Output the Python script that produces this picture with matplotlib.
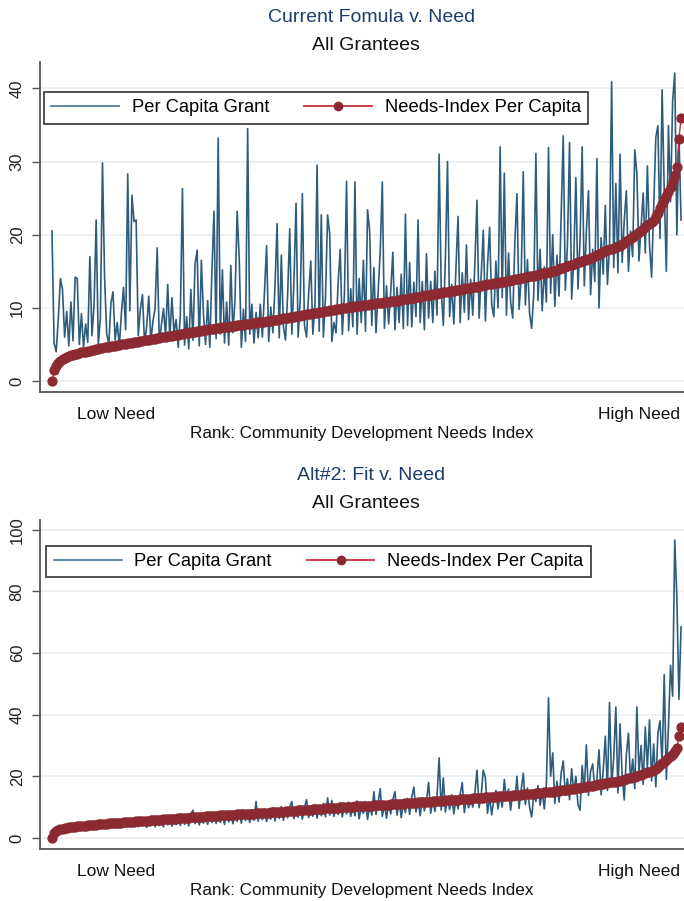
import numpy as np
import matplotlib
matplotlib.use("Agg")
import matplotlib.pyplot as plt
from matplotlib.lines import Line2D

# Needs-index per capita, grantees sorted by need (shared by both panels)
needs_pc = [
    0.0, 1.5, 2.1, 2.5, 2.8, 3.0, 3.15, 3.3, 3.4, 3.5,
    3.6, 3.7, 3.75, 3.8, 3.9, 3.95, 4.0, 4.1, 4.15, 4.2,
    4.3, 4.35, 4.4, 4.5, 4.55, 4.6, 4.65, 4.7, 4.75, 4.8,
    4.85, 4.9, 4.95, 5.0, 5.05, 5.1, 5.15, 5.2, 5.25, 5.3,
    5.35, 5.4, 5.45, 5.5, 5.55, 5.6, 5.65, 5.7, 5.75, 5.8,
    5.85, 5.9, 5.95, 6.0, 6.05, 6.1, 6.15, 6.2, 6.25, 6.3,
    6.35, 6.4, 6.45, 6.5, 6.55, 6.6, 6.65, 6.7, 6.75, 6.8,
    6.85, 6.9, 6.95, 7.0, 7.05, 7.08, 7.12, 7.16, 7.2, 7.24,
    7.28, 7.32, 7.36, 7.4, 7.44, 7.48, 7.52, 7.56, 7.6, 7.64,
    7.68, 7.72, 7.76, 7.8, 7.84, 7.88, 7.92, 7.96, 8.0, 8.04,
    8.08, 8.12, 8.16, 8.2, 8.25, 8.3, 8.35, 8.4, 8.45, 8.5,
    8.55, 8.6, 8.65, 8.7, 8.75, 8.8, 8.85, 8.9, 8.95, 9.0,
    9.05, 9.1, 9.15, 9.2, 9.25, 9.3, 9.35, 9.4, 9.45, 9.5,
    9.55, 9.6, 9.65, 9.7, 9.75, 9.8, 9.85, 9.9, 9.95, 10.0,
    10.04, 10.08, 10.12, 10.16, 10.2, 10.24, 10.28, 10.32, 10.36, 10.4,
    10.44, 10.48, 10.52, 10.56, 10.6, 10.64, 10.68, 10.72, 10.76, 10.8,
    10.84, 10.88, 10.92, 10.96, 11.0, 11.05, 11.1, 11.15, 11.2, 11.25,
    11.3, 11.35, 11.4, 11.45, 11.5, 11.55, 11.6, 11.65, 11.7, 11.75,
    11.8, 11.85, 11.9, 11.95, 12.0, 12.05, 12.1, 12.15, 12.2, 12.25,
    12.3, 12.35, 12.4, 12.45, 12.5, 12.55, 12.6, 12.65, 12.7, 12.75,
    12.8, 12.85, 12.9, 13.0, 13.05, 13.1, 13.15, 13.2, 13.25, 13.3,
    13.35, 13.4, 13.45, 13.5, 13.55, 13.6, 13.65, 13.7, 13.75, 13.8,
    13.9, 13.95, 14.0, 14.05, 14.1, 14.15, 14.2, 14.3, 14.35, 14.4,
    14.5, 14.55, 14.6, 14.7, 14.75, 14.8, 14.9, 14.95, 15.0, 15.1,
    15.2, 15.3, 15.4, 15.5, 15.6, 15.7, 15.8, 15.9, 16.0, 16.1,
    16.2, 16.3, 16.4, 16.5, 16.6, 16.7, 16.85, 17.0, 17.1, 17.25,
    17.4, 17.5, 17.65, 17.8, 17.9, 18.0, 18.1, 18.2, 18.3, 18.4,
    18.5, 18.7, 18.9, 19.1, 19.3, 19.5, 19.7, 19.9, 20.1, 20.3,
    20.5, 20.8, 21.0, 21.3, 21.5, 21.8, 22.0, 22.5, 23.0, 23.6,
    24.2, 24.7, 25.3, 25.9, 26.5, 27.3, 28.2, 29.3, 33.1, 35.9,
]

# Per capita grant under the current formula
grant_current = [
    20.5, 5.2, 4.0, 8.5, 14.0, 12.5, 6.0, 9.5, 4.8, 10.8,
    5.5, 14.2, 14.0, 5.0, 9.2, 4.6, 7.8, 5.3, 17.0, 6.2,
    10.4, 22.0, 5.0, 8.6, 29.8, 14.1, 6.5, 5.0, 10.6, 12.2,
    5.6, 8.0, 4.8, 9.3, 12.8, 7.0, 28.3, 9.6, 25.4, 21.8,
    22.0, 6.2, 9.8, 11.8, 5.2, 7.4, 11.6, 5.5, 8.2, 10.0,
    18.2, 5.4, 7.6, 9.9, 6.1, 13.2, 5.8, 11.4, 6.6, 8.4,
    4.6, 9.0, 26.3, 4.9, 8.8, 4.4, 12.5, 5.6, 16.0, 17.9,
    4.8, 16.5, 9.1, 5.0, 11.0, 4.6, 14.9, 23.2, 5.8, 33.2,
    6.4, 15.2, 5.2, 10.8, 4.9, 15.8, 6.6, 11.2, 23.2, 16.7,
    4.6, 9.8, 5.4, 34.5, 6.4, 10.5, 5.2, 9.4, 5.9, 10.5,
    6.0, 12.4, 18.5, 5.4, 10.1, 6.6, 13.0, 21.5, 5.9, 17.2,
    7.4, 5.6, 11.8, 20.8, 6.4, 13.6, 24.3, 6.0, 11.2, 25.6,
    7.6, 6.0, 12.0, 16.4, 6.4, 10.6, 29.5, 6.8, 22.7, 6.0,
    11.5, 22.7, 20.1, 5.4, 8.0, 6.6, 13.4, 18.0, 6.4, 11.9,
    27.3, 6.9, 12.6, 7.4, 27.2, 6.4, 14.0, 8.0, 16.5, 6.8,
    23.4, 20.5, 7.6, 15.5, 6.6, 12.2, 17.6, 27.2, 7.2, 13.0,
    7.8, 12.2, 17.6, 7.0, 12.8, 8.0, 14.6, 7.2, 22.8, 7.6,
    16.2, 7.4, 13.5, 8.8, 22.0, 8.0, 13.6, 7.0, 17.4, 8.6,
    13.6, 8.0, 15.0, 9.0, 31.0, 12.6, 7.6, 16.8, 30.0, 8.8,
    13.2, 7.8, 15.4, 22.5, 8.0, 14.8, 9.4, 18.6, 8.4, 13.9,
    9.0, 16.0, 24.7, 8.6, 14.4, 20.6, 8.2, 15.8, 21.0, 10.4,
    8.8, 16.4, 10.0, 32.0, 11.4, 28.4, 9.0, 17.5, 10.8, 8.6,
    19.0, 25.6, 9.8, 14.0, 28.6, 10.4, 16.6, 9.2, 7.2, 12.0,
    31.1, 11.0, 18.0, 9.6, 15.6, 10.8, 31.9, 12.0, 20.0, 10.2,
    17.2, 11.6, 22.4, 33.5, 12.4, 18.6, 32.6, 11.2, 16.5, 27.8,
    12.6, 19.4, 32.0, 13.0, 20.5, 26.0, 11.8, 18.0, 13.6, 30.4,
    10.0, 19.6, 14.6, 24.0, 13.2, 18.4, 40.9, 15.5, 27.0, 14.8,
    31.0, 16.2, 22.0, 26.0, 15.0, 20.5, 17.0, 31.6, 28.4, 16.4,
    21.0, 25.7, 17.5, 29.4, 18.6, 14.2, 24.0, 33.3, 34.9, 19.5,
    39.8, 26.0, 15.0, 34.9, 24.5, 38.3, 42.1, 20.0, 33.5, 22.0,
]

# Per capita grant under alternative #2 (fit)
grant_alt2 = [
    0.5, 2.0, 2.6, 3.4, 2.5, 3.6, 4.2, 2.9, 3.8, 3.2,
    4.5, 3.3, 3.9, 3.1, 4.6, 3.5, 4.2, 3.6, 5.0, 3.7,
    4.4, 3.8, 5.1, 3.9, 4.8, 4.0, 5.6, 4.2, 5.0, 4.1,
    5.5, 4.3, 5.2, 4.4, 6.0, 4.5, 5.6, 4.6, 6.2, 4.7,
    5.8, 3.6, 6.4, 3.9, 5.9, 3.4, 6.6, 4.0, 6.2, 3.6,
    6.9, 4.0, 6.0, 3.6, 7.1, 4.2, 6.4, 3.8, 7.0, 4.3,
    6.6, 4.0, 7.4, 4.4, 6.8, 3.9, 7.6, 9.0, 4.6, 7.2,
    4.2, 7.8, 4.8, 7.1, 4.4, 8.0, 5.0, 7.3, 4.7, 8.2,
    5.0, 7.6, 4.4, 8.4, 5.2, 7.9, 4.6, 8.7, 5.4, 7.8,
    4.8, 9.0, 5.6, 8.2, 5.0, 9.2, 5.7, 11.8, 5.4, 8.6,
    5.9, 9.5, 5.3, 8.8, 6.1, 9.8, 5.5, 9.0, 6.3, 10.2,
    5.7, 9.3, 6.5, 10.0, 11.8, 6.2, 9.6, 6.7, 10.4, 6.1,
    9.8, 12.4, 6.6, 10.2, 7.0, 10.8, 6.4, 10.0, 7.2, 11.2,
    6.8, 13.0, 7.4, 12.2, 7.0, 10.6, 7.6, 11.4, 6.8, 10.8,
    7.8, 11.6, 7.0, 10.4, 7.2, 12.0, 6.2, 10.2, 8.0, 11.8,
    6.0, 10.8, 7.4, 15.0, 7.6, 11.4, 16.0, 7.0, 11.0, 6.4,
    11.6, 7.8, 12.4, 15.0, 7.4, 12.0, 6.6, 11.4, 8.2, 12.8,
    7.6, 13.2, 16.5, 8.4, 12.2, 7.2, 13.0, 8.8, 12.0, 18.0,
    8.0, 12.6, 8.6, 13.4, 26.0, 9.0, 19.5, 8.4, 13.0, 9.2,
    14.0, 7.8, 12.8, 9.4, 14.2, 18.0, 8.2, 13.6, 9.8, 12.4,
    10.0, 14.6, 22.0, 9.8, 13.8, 22.0, 19.5, 8.0, 13.2, 7.5,
    12.6, 15.4, 9.4, 14.0, 10.0, 19.0, 12.4, 15.8, 9.0, 14.8,
    12.0, 20.0, 9.6, 15.6, 21.0, 10.8, 16.2, 10.0, 6.8, 14.2,
    11.8, 17.0, 10.6, 15.0, 9.4, 17.6, 45.5, 20.0, 27.6, 11.2,
    18.4, 11.6, 21.0, 25.0, 13.8, 19.2, 12.4, 22.5, 14.6, 20.0,
    10.8, 9.0, 23.5, 15.2, 30.2, 13.8, 21.6, 24.0, 16.0, 19.0,
    28.6, 14.0, 22.0, 33.0, 15.4, 44.0, 17.2, 26.0, 42.5, 14.6,
    37.0, 20.4, 12.3, 27.0, 34.0, 18.2, 25.6, 16.0, 42.5, 21.0,
    30.0, 17.4, 36.0, 22.6, 38.3, 18.5, 30.5, 16.6, 34.0, 38.0,
    24.0, 53.0, 19.0, 36.0, 56.0, 46.0, 96.7, 78.0, 45.0, 68.5,
]

rank_labels = ["Low Need", "High Need"]
rank_label_pos = [31.4, 280]

GRANT_COLOR = "#2e5c7d"
NEEDS_LINE = "#c8303e"
NEEDS_DOT = "#8c2a32"
GRID_COLOR = "#e8eef1"
AXIS_COLOR = "#555555"

plt.rcParams["font.family"] = ["Liberation Sans", "DejaVu Sans"]


def panel(fig, rect, grant, ylim, yticks, legend_anchor):
    rank = np.arange(1, len(needs_pc) + 1)
    ax = fig.add_axes(rect)
    ax.plot(rank, grant, color=GRANT_COLOR, lw=1.2, zorder=2)
    ax.plot(rank, needs_pc, color=NEEDS_LINE, lw=1.0, marker="o",
            markersize=6.4, markerfacecolor=NEEDS_DOT,
            markeredgecolor=NEEDS_DOT, zorder=3)

    ax.set_xlim(-4.7, 301.4)
    ax.set_ylim(*ylim)
    ax.set_yticks(yticks)
    ax.set_yticklabels([str(t) for t in yticks], rotation=90, va="center",
                       fontsize=12, color="#222222")
    ax.tick_params(axis="y", length=6, width=1, color=AXIS_COLOR, pad=5)
    ax.set_xticks(rank_label_pos)
    ax.set_xticklabels(rank_labels, fontsize=12.5, color="#111111")
    ax.tick_params(axis="x", length=0, pad=11)
    ax.set_xlabel("Rank: Community Development Needs Index", fontsize=12.3,
                  color="#111111", labelpad=3)

    ax.grid(axis="y", color=GRID_COLOR, lw=1.2)
    ax.set_axisbelow(True)
    for s in ["top", "right"]:
        ax.spines[s].set_visible(False)
    for s in ["left", "bottom"]:
        ax.spines[s].set_color(AXIS_COLOR)
        ax.spines[s].set_linewidth(1.3)

    handles = [
        Line2D([], [], color="#4f7d9c", lw=1.3),
        Line2D([], [], color=NEEDS_LINE, lw=1.3, marker="o", markersize=6,
               markerfacecolor=NEEDS_DOT, markeredgecolor=NEEDS_DOT),
    ]
    leg = ax.legend(handles, ["Per Capita Grant", "Needs-Index Per Capita"],
                    ncol=2, loc="upper left", bbox_to_anchor=legend_anchor,
                    borderaxespad=0, fontsize=13.2, frameon=True,
                    fancybox=False, edgecolor="#333333", framealpha=1,
                    handlelength=3.7, handletextpad=0.7, columnspacing=1.9,
                    borderpad=0.4)
    leg.get_frame().set_linewidth(1.2)

    return ax


fig = plt.figure(figsize=(6.84, 9.01), dpi=100)

panel(fig, [40 / 684, 1 - 392 / 901, 644 / 684, 330 / 901], grant_current,
      (-1.5, 43.6), [0, 10, 20, 30, 40], (0.006, 0.909))
panel(fig, [40 / 684, 1 - 849 / 901, 644 / 684, 329 / 901], grant_alt2,
      (-3.6, 103.2), [0, 20, 40, 60, 80, 100], (0.010, 0.922))

fig.text(0.543, 1 - 18 / 901, "Current Fomula v. Need", ha="center",
         va="center", fontsize=14, color="#1f3d6b")
fig.text(0.535, 1 - 46 / 901, "All Grantees", ha="center", va="center",
         fontsize=14, color="#111111")
fig.text(0.543, 1 - 476 / 901, "Alt#2: Fit v. Need", ha="center",
         va="center", fontsize=14, color="#1f3d6b")
fig.text(0.535, 1 - 504 / 901, "All Grantees", ha="center", va="center",
         fontsize=14, color="#111111")

fig.savefig("out.png", dpi=100, facecolor="white")
